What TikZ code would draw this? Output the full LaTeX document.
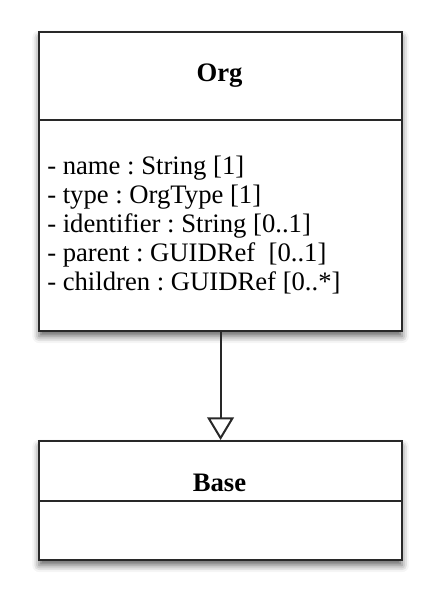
\documentclass[tikz,border=0pt]{standalone}
\usepackage{fontspec}
\setmainfont{Liberation Serif}
\usetikzlibrary{arrows.meta,shadows.blur}
\frenchspacing

\tikzset{
  classbox/.style={draw={rgb,255:red,40;green,40;blue,40}, line width=1.6pt, fill=white,
    inner sep=0pt, anchor=north west,
    blur shadow={shadow xshift=0pt, shadow yshift=-4pt, shadow blur radius=5pt, shadow opacity=60}},
  divider/.style={draw={rgb,255:red,40;green,40;blue,40}, line width=1.5pt},
  classname/.style={inner sep=0pt, font=\fontsize{20}{22}\selectfont\bfseries},
  attrtext/.style={inner sep=0pt, anchor=north west, align=left,
    font=\fontsize{20}{21.75}\selectfont},
  generalize/.style={draw={rgb,255:red,40;green,40;blue,40}, line width=1.5pt,
    -{Triangle[open,length=17pt,width=20pt,line width=1.5pt]}}
}

\begin{document}
\begin{tikzpicture}[x=0.75pt,y=0.75pt,yscale=-1,xscale=1]
\path[use as bounding box] (0,0) rectangle (438,605);

%Shape: Class Org
\node [classbox, minimum width=272.25pt, minimum height=224.25pt] (org) at (38,31) {};
\coordinate (orgdiv) at (38,120);
\draw [divider] (orgdiv) -- (orgdiv -| org.east);

%Shape: Class Base
\node [classbox, minimum width=272.25pt, minimum height=89.25pt] (base) at (38,440) {};
\coordinate (basediv) at (38,501);
\draw [divider] (basediv) -- (basediv -| base.east);

%Generalization
\draw [generalize] (org.south) -- (base.north);

% Text Node
\node [classname] (orgname) at (219.5,75.5) {Org};
% Text Node
\node [classname] (basename) at (219.5,483) {Base};
% Text Node
\node [attrtext] (orgattrs) at (47,156) {- name : String [1]\\
- type : OrgType [1]\\
- identifier : String [0..1]\\
- parent : GUIDRef \ [0..1]\\
- children : GUIDRef [0..*]};

\end{tikzpicture}
\end{document}
